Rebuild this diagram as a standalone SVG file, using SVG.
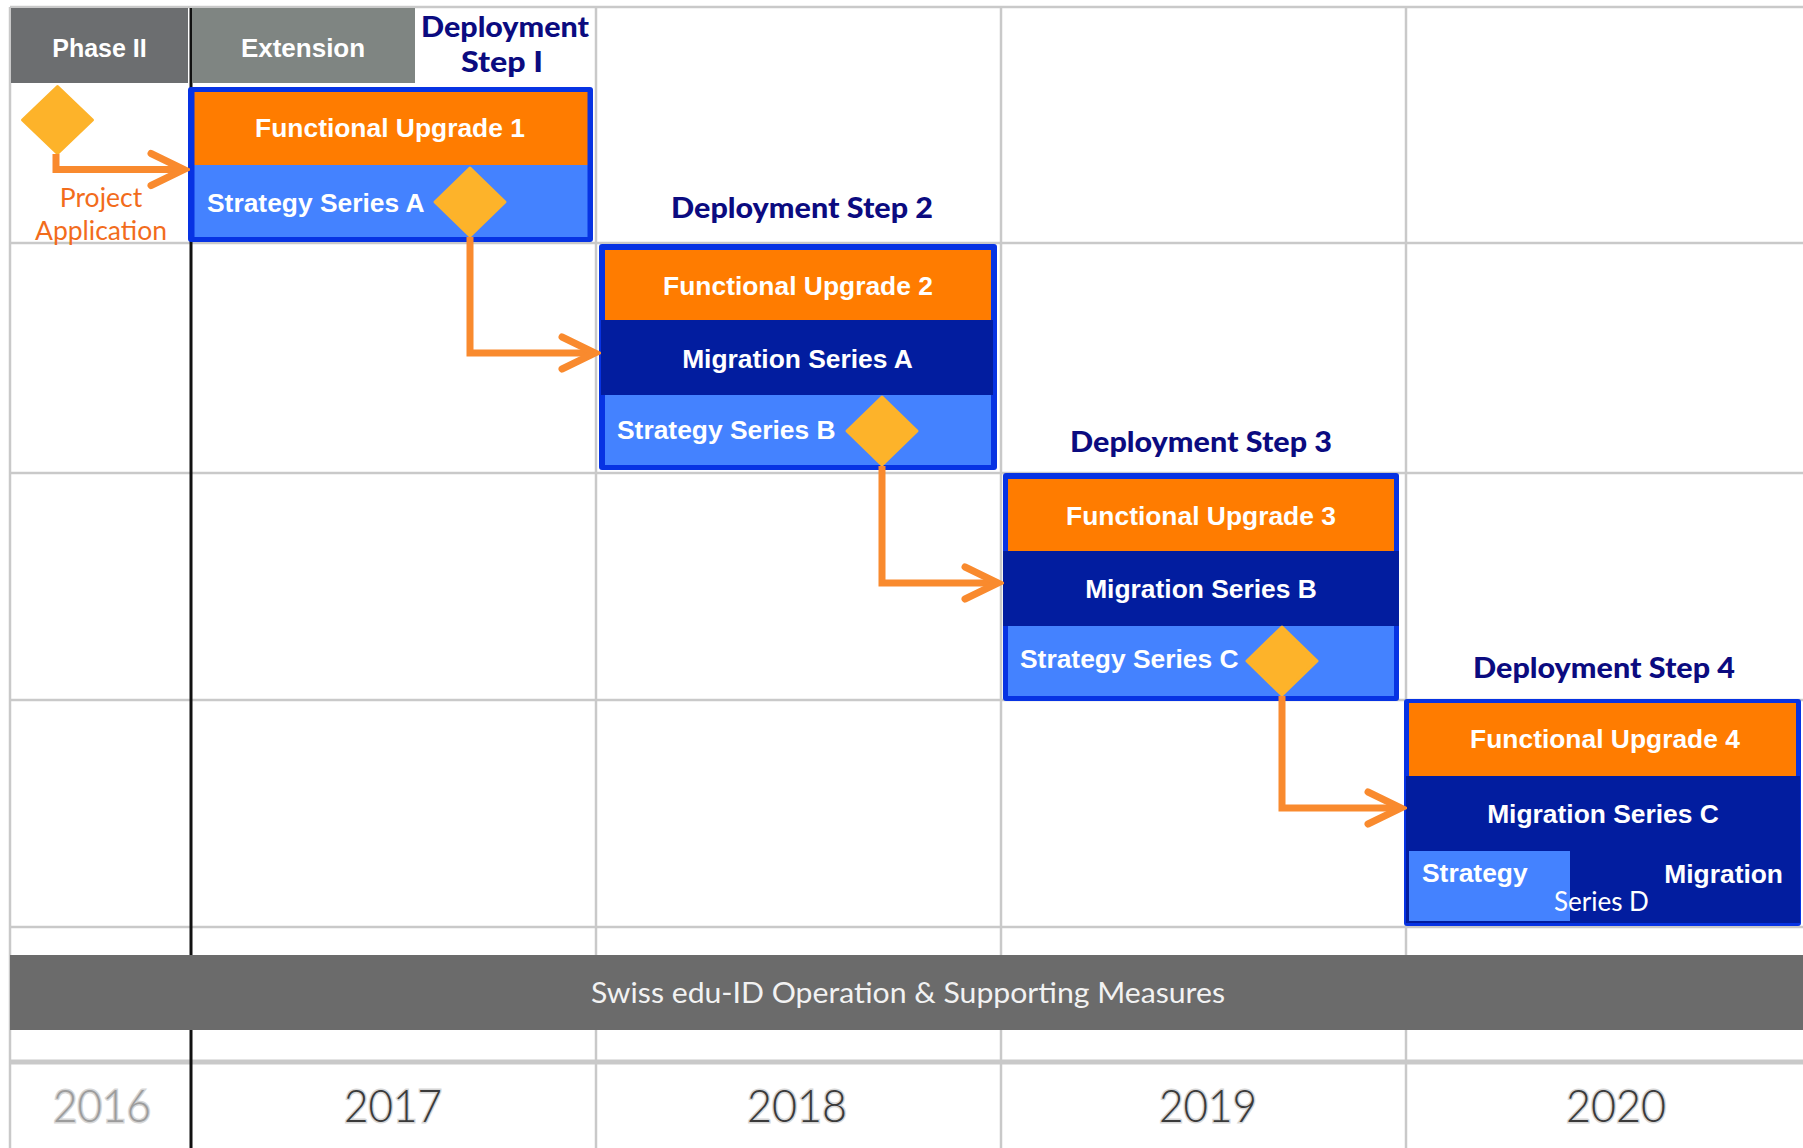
<svg xmlns="http://www.w3.org/2000/svg" width="1803" height="1148" viewBox="0 0 1803 1148">
<style>
.grid{stroke:#c9c9c9;stroke-width:2.5;fill:none}
.lbl{font-family:"Liberation Sans",Arial,sans-serif;font-weight:bold;font-size:26.4px;fill:#ffffff}
.hdr{font-family:"Liberation Sans",Arial,sans-serif;font-weight:bold;font-size:25px;fill:#ffffff}
.step{font-family:Lato,"Open Sans",sans-serif;font-weight:900;font-size:29px;fill:#0b0b80}
.gill{font-family:Lato,"Open Sans",sans-serif}
.border{fill:#0733e3}
.orange{fill:#ff7c00}
.dark{fill:#021d9f}
.light{fill:#4482ff}
.dia{fill:#fdb32a;stroke:#fdb32a;stroke-width:3;stroke-linejoin:round}
.conn{fill:none;stroke:#f98a2e;stroke-width:7;marker-end:url(#chev)}
.year{font-family:Lato,"Open Sans",sans-serif;font-weight:300;font-size:45px;fill:#3a3a3a;stroke:#d6d6d6;stroke-width:3;paint-order:stroke}
</style>
<defs>
<marker id="chev" markerUnits="userSpaceOnUse" viewBox="-40 -22 46 44" markerWidth="46" markerHeight="44" refX="0" refY="0" orient="auto">
<path d="M -33 -16 L 0 0 L -33 16" fill="none" stroke="#f98a2e" stroke-width="7" stroke-linecap="round" stroke-linejoin="miter"/>
</marker>
</defs>
<rect x="0" y="0" width="1803" height="1148" fill="#ffffff"/>
<g id="grid">
<line class="grid" x1="10" y1="7" x2="1803" y2="7"/>
<line class="grid" x1="10" y1="7" x2="10" y2="1148"/>
<line class="grid" x1="596" y1="7" x2="596" y2="1148"/>
<line class="grid" x1="1001" y1="7" x2="1001" y2="1148"/>
<line class="grid" x1="1406" y1="7" x2="1406" y2="1148"/>
<line class="grid" x1="10" y1="243" x2="1803" y2="243"/>
<line class="grid" x1="10" y1="473" x2="1803" y2="473"/>
<line class="grid" x1="10" y1="700" x2="1803" y2="700"/>
<line class="grid" x1="10" y1="927" x2="1803" y2="927"/>
<line x1="10" y1="1062" x2="1803" y2="1062" stroke="#c9c9c9" stroke-width="5"/>
<line x1="191" y1="8" x2="191" y2="1148" stroke="#111111" stroke-width="3"/>
</g>
<g id="header-phase2">
<rect x="11" y="8" width="177" height="75" fill="#6c6e70"/>
<text class="hdr" x="99.5" y="57" text-anchor="middle">Phase II</text>
</g>
<g id="header-extension">
<rect x="192" y="8" width="223" height="75" fill="#7f8582"/>
<text class="hdr" x="303" y="57" text-anchor="middle" style="font-size:26px">Extension</text>
</g>
<g id="band">
<rect x="10" y="955" width="1793" height="75" fill="#6b6b6b"/>
<text class="gill" x="908" y="1003" text-anchor="middle" font-size="28" fill="#f2f2f2" textLength="634" lengthAdjust="spacingAndGlyphs">Swiss edu-ID Operation &amp; Supporting Measures</text>
</g>
<g id="years">
<text class="year" x="102" y="1122" text-anchor="middle" style="fill:#9c9c9c" textLength="98" lengthAdjust="spacingAndGlyphs">2016</text>
<text class="year" x="393" y="1122" text-anchor="middle" textLength="98" lengthAdjust="spacingAndGlyphs">2017</text>
<text class="year" x="797" y="1122" text-anchor="middle" textLength="100" lengthAdjust="spacingAndGlyphs">2018</text>
<text class="year" x="1208" y="1122" text-anchor="middle" textLength="98" lengthAdjust="spacingAndGlyphs">2019</text>
<text class="year" x="1616" y="1122" text-anchor="middle" textLength="100" lengthAdjust="spacingAndGlyphs">2020</text>
</g>
<g id="project-application">
<polygon class="dia" points="57.5,86.5 92.5,120 57.5,153.5 22.5,120"/>
<text class="gill" x="101" y="207" text-anchor="middle" font-size="26.5" fill="#f26c1c">Project</text>
<text class="gill" x="101" y="240" text-anchor="middle" font-size="26.5" fill="#f26c1c">Application</text>
</g>
<g id="step1">
<text class="step" x="505" y="37" text-anchor="middle" textLength="168" lengthAdjust="spacingAndGlyphs">Deployment</text>
<text class="step" x="502" y="72" text-anchor="middle" textLength="82" lengthAdjust="spacingAndGlyphs">Step I</text>
<rect class="border" x="188" y="87" width="405" height="155" rx="3"/>
<rect class="orange" x="194.5" y="92" width="393" height="73"/>
<rect class="light" x="194.5" y="165" width="393" height="72"/>
<text class="lbl" x="390" y="137" text-anchor="middle">Functional Upgrade 1</text>
<text class="lbl" x="207" y="212">Strategy Series A</text>
<polygon class="dia" points="470,168 505,202 470,236 435,202"/>
</g>
<g id="step2">
<text class="step" x="802" y="218" text-anchor="middle" textLength="262" lengthAdjust="spacingAndGlyphs">Deployment Step 2</text>
<rect class="border" x="599" y="244" width="398" height="226" rx="3"/>
<rect class="orange" x="605" y="250" width="386" height="70"/>
<rect class="dark" x="601" y="320" width="392" height="75"/>
<rect class="light" x="605" y="395" width="386" height="70"/>
<text class="lbl" x="798" y="295" text-anchor="middle">Functional Upgrade 2</text>
<text class="lbl" x="797.5" y="368" text-anchor="middle">Migration Series A</text>
<text class="lbl" x="617" y="439">Strategy Series B</text>
<polygon class="dia" points="882,397 917,431 882,465 847,431"/>
</g>
<g id="step3">
<text class="step" x="1201" y="452" text-anchor="middle" textLength="262" lengthAdjust="spacingAndGlyphs">Deployment Step 3</text>
<rect class="border" x="1003" y="473" width="396" height="228" rx="3"/>
<rect class="orange" x="1008" y="479" width="386" height="72"/>
<rect class="dark" x="1003" y="551" width="396" height="75"/>
<rect class="light" x="1008" y="626" width="386" height="70"/>
<text class="lbl" x="1201" y="525" text-anchor="middle">Functional Upgrade 3</text>
<text class="lbl" x="1201" y="598" text-anchor="middle">Migration Series B</text>
<text class="lbl" x="1020" y="668">Strategy Series C</text>
<polygon class="dia" points="1282,627 1317,661 1282,695 1247,661"/>
</g>
<g id="step4">
<text class="step" x="1604" y="678" text-anchor="middle" textLength="262" lengthAdjust="spacingAndGlyphs">Deployment Step 4</text>
<rect class="border" x="1404" y="699" width="397" height="227" rx="3"/>
<rect class="orange" x="1409" y="703" width="387" height="73"/>
<rect class="dark" x="1406" y="776" width="394" height="147"/>
<rect class="light" x="1409" y="851" width="161" height="70"/>
<text class="lbl" x="1605" y="748" text-anchor="middle">Functional Upgrade 4</text>
<text class="lbl" x="1603" y="823" text-anchor="middle">Migration Series C</text>
<text class="lbl" x="1422" y="882">Strategy</text>
<text class="lbl" x="1783" y="883" text-anchor="end">Migration</text>
<text class="gill" x="1554" y="911" font-size="26" fill="#ffffff">Series D</text>
</g>
<g id="connectors">
<path class="conn" d="M 56 154 V 169.5 H 184"/>
<path class="conn" d="M 470 237 V 353 H 595"/>
<path class="conn" d="M 882 466 V 583 H 998"/>
<path class="conn" d="M 1282 696 V 808 H 1401"/>
</g>
</svg>
